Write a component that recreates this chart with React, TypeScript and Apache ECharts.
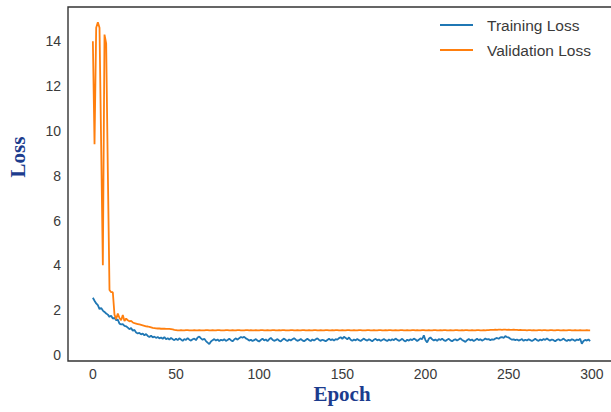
import React, { useEffect, useRef } from "react";
import * as echarts from "echarts";

const epochs: number[] = Array.from({ length: 300 }, (_, i) => i);

const trainingLoss: number[] = [
  2.55, 2.42, 2.30, 2.22, 2.05, 2.10, 1.98, 1.92, 1.85, 1.80,
  1.70, 1.75, 1.62, 1.66, 1.55, 1.58, 1.40, 1.36, 1.38, 1.30,
  1.28, 1.22, 1.15, 1.20, 1.08, 1.12, 1.00, 0.96, 0.98, 0.92,
  0.95, 0.88, 0.93, 0.85, 0.80, 0.86, 0.78, 0.82, 0.76, 0.80,
  0.74, 0.78, 0.72, 0.80, 0.70, 0.75, 0.68, 0.76, 0.70, 0.66,
  0.72, 0.66, 0.74, 0.69, 0.63, 0.71, 0.67, 0.75, 0.68, 0.64,
  0.70, 0.73, 0.66, 0.78, 0.82, 0.74, 0.68, 0.72, 0.62, 0.55,
  0.49, 0.60, 0.66, 0.71, 0.64, 0.69, 0.62, 0.68, 0.65, 0.70,
  0.63, 0.67, 0.72, 0.66, 0.61, 0.69, 0.74, 0.68, 0.75, 0.80,
  0.77, 0.81, 0.74, 0.70, 0.64, 0.68, 0.62, 0.66, 0.71, 0.64,
  0.60, 0.67, 0.73, 0.65, 0.69, 0.62, 0.70, 0.76, 0.68, 0.63,
  0.66, 0.71, 0.64, 0.60, 0.68, 0.73, 0.67, 0.62, 0.69, 0.65,
  0.70, 0.75, 0.68, 0.63, 0.66, 0.71, 0.65, 0.61, 0.67, 0.72,
  0.66, 0.62, 0.69, 0.64, 0.70, 0.74, 0.67, 0.63, 0.68, 0.65,
  0.61, 0.67, 0.72, 0.66, 0.70, 0.64, 0.71, 0.68, 0.75, 0.79,
  0.72, 0.81, 0.76, 0.70, 0.78, 0.68, 0.63, 0.69, 0.65, 0.71,
  0.66, 0.62, 0.68, 0.73, 0.67, 0.64, 0.70, 0.66, 0.61, 0.68,
  0.72, 0.65, 0.69, 0.63, 0.67, 0.71, 0.66, 0.62, 0.69, 0.64,
  0.70, 0.66, 0.73, 0.68, 0.63, 0.67, 0.72, 0.65, 0.60, 0.68,
  0.64, 0.70, 0.66, 0.73, 0.69, 0.62, 0.68, 0.74, 0.70, 0.88,
  0.66, 0.56, 0.72, 0.78, 0.70, 0.65, 0.69, 0.63, 0.71, 0.67,
  0.73, 0.66, 0.62, 0.68, 0.72, 0.65, 0.61, 0.67, 0.70, 0.64,
  0.69, 0.74, 0.67, 0.63, 0.58, 0.66, 0.71, 0.65, 0.69, 0.62,
  0.67, 0.72, 0.66, 0.70, 0.64, 0.68, 0.73, 0.69, 0.71, 0.66,
  0.70, 0.68, 0.73, 0.76, 0.72, 0.78, 0.80, 0.76, 0.84, 0.80,
  0.78, 0.72, 0.68, 0.70, 0.66, 0.69, 0.64, 0.67, 0.71, 0.63,
  0.68, 0.65, 0.70, 0.66, 0.62, 0.67, 0.72, 0.66, 0.63, 0.69,
  0.65, 0.71, 0.67, 0.74, 0.68, 0.64, 0.69, 0.66, 0.61, 0.67,
  0.70, 0.65, 0.68, 0.73, 0.66, 0.62, 0.68, 0.64, 0.70, 0.67,
  0.63, 0.69, 0.66, 0.72, 0.50, 0.62, 0.67, 0.64, 0.69, 0.62,
];

const validationLoss: number[] = [
  14.0, 9.4, 14.6, 14.85, 14.6, 9.3, 4.0, 14.3, 13.9, 8.2,
  2.9, 2.8, 2.8, 1.8, 1.6, 1.85, 1.65, 1.55, 1.78, 1.52,
  1.62, 1.55, 1.50, 1.52, 1.45, 1.42, 1.40, 1.38, 1.36, 1.34,
  1.32, 1.30, 1.28, 1.27, 1.25, 1.23, 1.21, 1.20, 1.19, 1.18,
  1.18, 1.17, 1.17, 1.17, 1.16, 1.16, 1.16, 1.15, 1.14, 1.12,
  1.11, 1.10, 1.10, 1.11, 1.10, 1.10, 1.11, 1.11, 1.10, 1.10,
  1.10, 1.11, 1.10, 1.10, 1.11, 1.10, 1.10, 1.10, 1.11, 1.11,
  1.10, 1.10, 1.11, 1.10, 1.10, 1.11, 1.11, 1.10, 1.10, 1.10,
  1.11, 1.11, 1.10, 1.10, 1.11, 1.10, 1.10, 1.11, 1.11, 1.10,
  1.10, 1.10, 1.11, 1.11, 1.10, 1.11, 1.10, 1.10, 1.11, 1.10,
  1.10, 1.11, 1.11, 1.10, 1.10, 1.11, 1.10, 1.10, 1.11, 1.11,
  1.10, 1.10, 1.11, 1.10, 1.11, 1.11, 1.10, 1.10, 1.10, 1.11,
  1.11, 1.10, 1.10, 1.11, 1.10, 1.10, 1.11, 1.11, 1.10, 1.10,
  1.11, 1.10, 1.10, 1.11, 1.11, 1.10, 1.10, 1.11, 1.10, 1.10,
  1.11, 1.11, 1.10, 1.10, 1.11, 1.10, 1.11, 1.11, 1.10, 1.10,
  1.11, 1.10, 1.10, 1.11, 1.11, 1.10, 1.10, 1.11, 1.10, 1.10,
  1.11, 1.11, 1.10, 1.10, 1.10, 1.11, 1.11, 1.10, 1.10, 1.11,
  1.10, 1.10, 1.11, 1.11, 1.10, 1.10, 1.11, 1.10, 1.11, 1.11,
  1.10, 1.10, 1.11, 1.10, 1.10, 1.11, 1.11, 1.10, 1.10, 1.11,
  1.10, 1.10, 1.11, 1.11, 1.10, 1.11, 1.10, 1.10, 1.11, 1.11,
  1.10, 1.10, 1.11, 1.10, 1.10, 1.11, 1.11, 1.10, 1.10, 1.11,
  1.10, 1.11, 1.11, 1.10, 1.10, 1.11, 1.10, 1.10, 1.11, 1.11,
  1.10, 1.10, 1.11, 1.10, 1.11, 1.11, 1.10, 1.10, 1.11, 1.10,
  1.10, 1.11, 1.11, 1.10, 1.10, 1.11, 1.10, 1.11, 1.11, 1.12,
  1.12, 1.12, 1.13, 1.12, 1.13, 1.13, 1.12, 1.13, 1.13, 1.12,
  1.13, 1.12, 1.12, 1.13, 1.12, 1.12, 1.11, 1.12, 1.11, 1.11,
  1.11, 1.10, 1.11, 1.11, 1.10, 1.11, 1.10, 1.10, 1.11, 1.11,
  1.10, 1.11, 1.11, 1.10, 1.10, 1.11, 1.11, 1.10, 1.10, 1.11,
  1.11, 1.10, 1.10, 1.11, 1.10, 1.10, 1.11, 1.11, 1.10, 1.10,
  1.11, 1.10, 1.10, 1.11, 1.10, 1.10, 1.10, 1.11, 1.10, 1.10,
];

const xTicks: number[] = [0, 50, 100, 150, 200, 250, 300];
const yTicks: number[] = [0, 2, 4, 6, 8, 10, 12, 14];
const seriesNames: string[] = ["Training Loss", "Validation Loss"];

export default function App() {
  const ref = useRef<HTMLDivElement>(null);
  useEffect(() => {
    if (!ref.current) return;
    const chart = echarts.init(ref.current, undefined, { renderer: "svg" });
    const tickColor = "#3a3a3a";
    const nameColor = "#1c3c8e";
    chart.setOption({
      animation: false,
      backgroundColor: "#ffffff",
      grid: {
        left: 68,
        top: 7,
        width: 547,
        height: 354,
        show: true,
        borderColor: "#333333",
        borderWidth: 1.4,
        backgroundColor: "transparent",
      },
      legend: {
        orient: "vertical",
        left: 440,
        top: 17,
        padding: 0,
        icon: "rect",
        itemWidth: 33,
        itemHeight: 2,
        itemGap: 9,
        data: seriesNames,
        textStyle: {
          fontFamily: "Liberation Sans, Arial, sans-serif",
          fontSize: 15.5,
          color: "#3a3a3a",
          padding: [0, 0, 0, 9],
        },
      },
      xAxis: {
        type: "value",
        min: -14.95,
        max: 313.95,
        axisLine: { show: false },
        axisTick: { show: false, customValues: xTicks },
        splitLine: { show: false },
        axisLabel: {
          customValues: xTicks,
          margin: 6,
          fontFamily: "Liberation Sans, Arial, sans-serif",
          fontSize: 14,
          color: tickColor,
        },
      },
      yAxis: {
        type: "value",
        min: -0.27,
        max: 15.53,
        axisLine: { show: false },
        axisTick: { show: false, customValues: yTicks },
        splitLine: { show: false },
        axisLabel: {
          customValues: yTicks,
          margin: 7,
          fontFamily: "Liberation Sans, Arial, sans-serif",
          fontSize: 14,
          color: tickColor,
        },
      },
      graphic: [
        {
          type: "text",
          x: 342,
          y: 394,
          style: {
            text: "Epoch",
            fontFamily: "Liberation Serif, Times New Roman, serif",
            fontWeight: "bold",
            fontSize: 21,
            fill: nameColor,
            align: "center",
            verticalAlign: "middle",
          },
        },
        {
          type: "text",
          x: 18,
          y: 157,
          rotation: Math.PI / 2,
          style: {
            text: "Loss",
            fontFamily: "Liberation Serif, Times New Roman, serif",
            fontWeight: "bold",
            fontSize: 21,
            fill: nameColor,
            align: "center",
            verticalAlign: "middle",
          },
        },
      ],
      series: [
        {
          name: seriesNames[0],
          type: "line",
          showSymbol: false,
          color: "#1f77b4",
          lineStyle: { width: 1.8, color: "#1f77b4" },
          data: epochs.map((e, i) => [e, trainingLoss[i]]),
        },
        {
          name: seriesNames[1],
          type: "line",
          showSymbol: false,
          color: "#ff7f0e",
          lineStyle: { width: 1.8, color: "#ff7f0e" },
          data: epochs.map((e, i) => [e, validationLoss[i]]),
        },
      ],
    });
    return () => chart.dispose();
  }, []);
  return (
    <div
      style={{
        position: "absolute",
        left: 0,
        top: 0,
        width: 611,
        height: 412,
        overflow: "hidden",
        background: "#ffffff",
      }}
    >
      <div ref={ref} style={{ width: 625, height: 412 }} />
    </div>
  );
}
